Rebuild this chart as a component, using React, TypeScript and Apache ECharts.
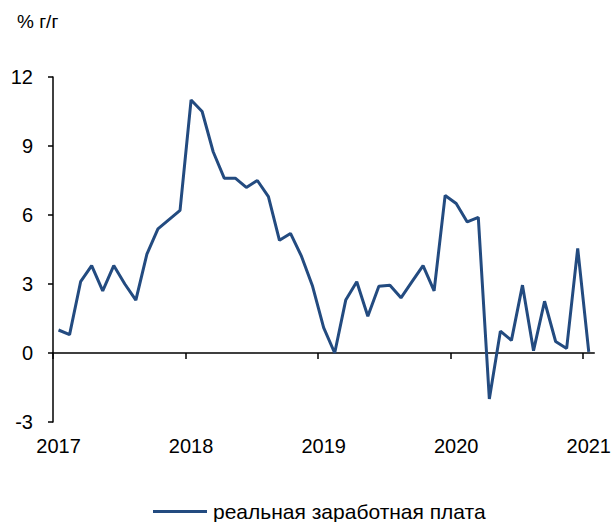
import React, { useEffect, useRef } from "react";
import * as echarts from "echarts";

const startYear = 2017;
const yearTicks = ["2017", "2018", "2019", "2020", "2021"];
const yTicks = [-3, 0, 3, 6, 9, 12];
const seriesName = "реальная заработная плата";
const unitLabel = "% г/г";

// monthly values, Jan 2017 .. Jan 2021
const wages2017 = [1.0, 0.8, 3.1, 3.8, 2.7, 3.8, 3.0, 2.3, 4.3, 5.4, 5.8, 6.2];
const wages2018 = [11.0, 10.5, 8.75, 7.6, 7.6, 7.2, 7.5, 6.8, 4.9, 5.2, 4.2, 2.9];
const wages2019 = [1.1, 0.0, 2.3, 3.1, 1.6, 2.9, 2.95, 2.4, 3.1, 3.8, 2.7, 6.85];
const wages2020 = [6.5, 5.7, 5.9, -2.0, 0.95, 0.55, 2.95, 0.1, 2.25, 0.5, 0.2, 4.55];
const wages2021 = [0.05];

const values = [...wages2017, ...wages2018, ...wages2019, ...wages2020, ...wages2021];

export default function App() {
  const ref = useRef<HTMLDivElement>(null);
  useEffect(() => {
    if (!ref.current) return;
    const chart = echarts.init(ref.current, null, { renderer: "svg" });
    const font = "Liberation Sans, Arial, sans-serif";
    const months = values.length;
    const tickVals = yearTicks.map((_, i) => i * 12);
    const labelVals = yearTicks.map((_, i) => i * 12 + 0.5);
    chart.setOption({
      animation: false,
      textStyle: { fontFamily: font },
      grid: { left: 53, top: 77, width: 542, height: 345, containLabel: false },
      graphic: [
        {
          type: "text",
          left: 17,
          top: 12,
          style: { text: unitLabel, fontSize: 19, fontFamily: font, fill: "#000" },
        },
      ],
      legend: {
        left: 153,
        top: 501,
        padding: 0,
        itemWidth: 54,
        itemHeight: 3,
        itemGap: 10,
        textStyle: { fontSize: 21, color: "#000", fontFamily: font, padding: [0, 0, 0, 1] },
        data: [{ name: seriesName, icon: "rect" }],
      },
      xAxis: [
        {
          type: "value",
          min: 0,
          max: months,
          axisLine: { show: true, onZero: true, lineStyle: { color: "#000", width: 1.5 } },
          axisTick: { show: true, customValues: tickVals, length: 6, lineStyle: { color: "#000", width: 1.5 } },
          axisLabel: { show: false },
          splitLine: { show: false },
        },
        {
          type: "value",
          position: "bottom",
          min: 0,
          max: months,
          axisLine: { show: false, onZero: false },
          axisTick: { show: false },
          axisLabel: {
            show: true,
            customValues: labelVals,
            margin: 14,
            fontSize: 20,
            color: "#000",
            fontFamily: font,
            formatter: (v: number) => String(startYear + Math.floor(v / 12)),
          },
          splitLine: { show: false },
        },
      ],
      yAxis: {
        type: "value",
        min: yTicks[0],
        max: yTicks[yTicks.length - 1],
        interval: 3,
        axisLine: { show: true, lineStyle: { color: "#000", width: 1.5 } },
        axisTick: { show: true, length: 5, lineStyle: { color: "#000", width: 1.5 } },
        axisLabel: { margin: 20, fontSize: 20, color: "#000", fontFamily: font },
        splitLine: { show: false },
      },
      series: [
        {
          name: seriesName,
          type: "line",
          xAxisIndex: 0,
          symbol: "none",
          lineStyle: { color: "#234B80", width: 3 },
          itemStyle: { color: "#234B80" },
          data: values.map((v, i) => [i + 0.5, v]),
        },
      ],
    });
    return () => chart.dispose();
  }, []);
  return (
    <div
      ref={ref}
      style={{ position: "fixed", left: 0, top: 0, width: 614, height: 522, background: "#fff" }}
    />
  );
}
